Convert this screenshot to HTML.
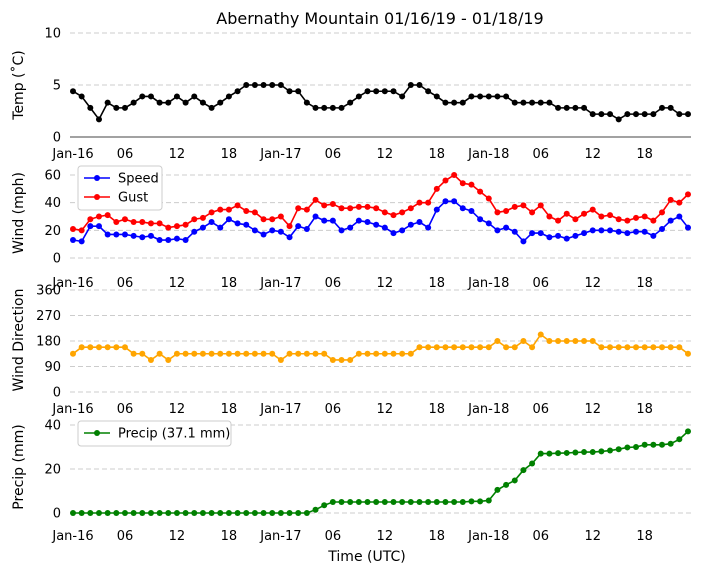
<!DOCTYPE html>
<html><head><meta charset="utf-8"><style>
body{margin:0;background:#fff;}
svg{display:block;font-family:"DejaVu Sans","Liberation Sans",sans-serif;}
</style></head><body>
<svg id="c" width="704" height="573" xmlns="http://www.w3.org/2000/svg"></svg>
<script>
const hours = Array.from({length:72},(_,i)=>i);
const temp = [4.4,3.9,2.8,1.7,3.3,2.8,2.8,3.3,3.9,3.9,3.3,3.3,3.9,3.3,3.9,3.3,2.8,3.3,3.9,4.4,5,5,5,5,5,4.4,4.4,3.3,2.8,2.8,2.8,2.8,3.3,3.9,4.4,4.4,4.4,4.4,3.9,5,5,4.4,3.9,3.3,3.3,3.3,3.9,3.9,3.9,3.9,3.9,3.3,3.3,3.3,3.3,3.3,2.8,2.8,2.8,2.8,2.2,2.2,2.2,1.7,2.2,2.2,2.2,2.2,2.8,2.8,2.2,2.2];
const speed = [13,12,23,23,17,17,17,16,15,16,13,13,14,13,19,22,26,22,28,25,24,20,17,20,19,15,23,21,30,27,27,20,22,27,26,24,22,18,20,24,26,22,35,41,41,36,34,28,25,20,22,19,12,18,18,15,16,14,16,18,20,20,20,19,18,19,19,16,21,27,30,22];
const gust = [21,20,28,30,31,26,28,26,26,25,25,22,23,24,28,29,33,35,35,38,34,33,28,28,30,23,36,35,42,38,39,36,36,37,37,36,33,31,33,36,40,40,50,56,60,54,53,48,43,33,34,37,38,33,38,30,27,32,28,32,35,30,31,28,27,29,30,27,33,42,40,46];
const dir = [135,158,158,158,158,158,158,135,135,113,135,113,135,135,135,135,135,135,135,135,135,135,135,135,113,135,135,135,135,135,113,113,113,135,135,135,135,135,135,135,158,158,158,158,158,158,158,158,158,180,158,158,180,158,203,180,180,180,180,180,180,158,158,158,158,158,158,158,158,158,158,135];
const precip = [0,0,0,0,0,0,0, 0,0,0,0,0,0,0, 0,0,0,0,0,0,0, 0,0,0,0,0,0,0, 1.5,3.5,5,5,5,5,5,5,5,5,5,5,5,5,5,5,5,5,5.3,5.3,5.7,10.5,12.8,14.8,19.5,22.5,27,27,27.2,27.3,27.5,27.7,27.7,28,28.4,29,29.8,30,31,31,31,31.5,33.5,37.1];
const xTickLabels = ["Jan-16","06","12","18","Jan-17","06","12","18","Jan-18","06","12","18"];
const xTickHours = [0,6,12,18,24,30,36,42,48,54,60,66];

const svg=document.getElementById('c');const NS="http://www.w3.org/2000/svg";
function el(t,a,txt){const e=document.createElementNS(NS,t);for(const k in a)e.setAttribute(k,a[k]);if(txt!==undefined)e.textContent=txt;svg.appendChild(e);return e;}
const X0=73,X1=688;
const xs=h=>X0+(X1-X0)*h/71;

function panel(name,ymin,ymax,yTop,yBot,ticks,lblY,ylabel,ylabelY,solidZero){
  const ys=v=>yBot-(v-ymin)/(ymax-ymin)*(yBot-yTop);
  ticks.forEach(t=>{
    const y=ys(t);
    const g=el('line',{x1:70,x2:691,y1:y,y2:y,stroke:(solidZero&&t===0)?'#444':'#ccc','stroke-width':1,'stroke-dasharray':(solidZero&&t===0)?'none':'5,3'});
    
    
    const tl=el('text',{x:61,y:y+4.5,'text-anchor':'end','font-size':13},t);
    
    
  });
  xTickHours.forEach((h,i)=>{
    const t=el('text',{x:xs(h),y:lblY,'text-anchor':'middle','font-size':13},xTickLabels[i]);
    
    
  });
  const yl=el('text',{x:0,y:0,'text-anchor':'middle','font-size':14,transform:`translate(23,${ylabelY}) rotate(-90)`},ylabel);
  
  
  return ys;
}
function series(name,data,ys,color){
  const n=Math.min(data.length,hours.length);
  const d=data.slice(0,n);
  const pts=d.map((v,i)=>xs(hours[i])+','+ys(v)).join(' ');
  const p=el('polyline',{points:pts,fill:'none',stroke:color,'stroke-width':1.6});
  
  
  d.forEach((v,i)=>{
    const c=el('circle',{cx:xs(hours[i]),cy:ys(v),r:3,fill:color});
    
    
  });
}
const title=el('text',{x:380,y:24,'text-anchor':'middle','font-size':16},'Abernathy Mountain 01/16/19 - 01/18/19');



const y1=panel('temp',0,10,33,137,[0,5,10],158,'Temp (˚C)',85,true);
series('temp',temp,y1,'#000');
const y2=panel('wind',0,60,175,258,[0,20,40,60],287,'Wind (mph)',213,false);
series('speed',speed,y2,'#0000ff');
series('gust',gust,y2,'#ff0000');
const y3=panel('direction',0,360,290,392,[0,90,180,270,360],413,'Wind Direction',340,false);
series('direction',dir,y3,'#ffa500');
const y4=panel('precip',0,40,425,513,[0,20,40],540,'Precip (mm)',467,false);
series('precip',precip,y4,'#008000');
const xt=el('text',{x:367,y:561,'text-anchor':'middle','font-size':14},'Time (UTC)');



function legend(name,x,y,w,entries){
  const b=el('rect',{x:x,y:y,width:w,height:entries.length*19+6,fill:'#fff',stroke:'#ccc',rx:3});
  
  
  entries.forEach((e,i)=>{
    const cy=y+12+i*19;
    const l=el('line',{x1:x+6,x2:x+32,y1:cy,y2:cy,stroke:e[1],'stroke-width':1.6});
    
    
    const c=el('circle',{cx:x+19,cy:cy,r:3,fill:e[1]});
    
    
    const t=el('text',{x:x+40,y:cy+4.5,'font-size':13},e[0]);
    
    
  });
}
legend('wind-legend',78,166,84,[['Speed','#0000ff'],['Gust','#ff0000']]);
legend('precip-legend',78,421,153,[['Precip (37.1 mm)','#008000']]);
</script>
</body></html>
